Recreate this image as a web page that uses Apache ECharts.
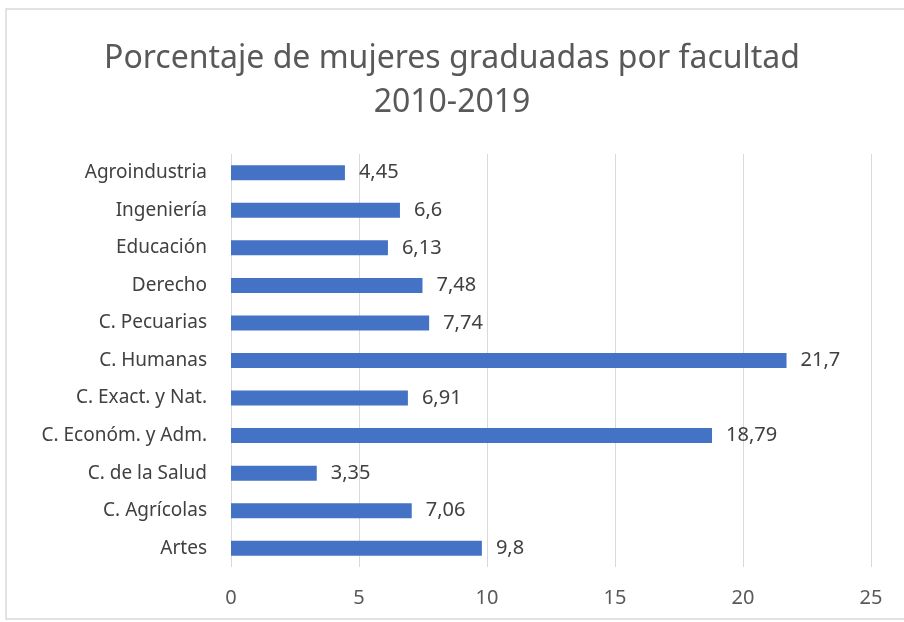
<!DOCTYPE html>
<html>
<head>
<meta charset="utf-8">
<script src="https://cdn.jsdelivr.net/npm/echarts@6/dist/echarts.min.js"></script>
<style>
  html, body { margin: 0; padding: 0; background: #fff; }
  #chart { width: 904px; height: 622px; }
</style>
</head>
<body>
<div id="chart"></div>
<script>
// bottom to top, as on the axis
var facultades = ['Artes', 'C. Agrícolas', 'C. de la Salud', 'C. Económ. y Adm.', 'C. Exact. y Nat.',
                  'C. Humanas', 'C. Pecuarias', 'Derecho', 'Educación', 'Ingeniería', 'Agroindustria'];
var porcentajes = [9.8, 7.06, 3.35, 18.79, 6.91, 21.7, 7.74, 7.48, 6.13, 6.6, 4.45];

var chart = echarts.init(document.getElementById('chart'));

var option = {
    backgroundColor: '#ffffff',
    textStyle: { fontFamily: 'Noto Sans' },
    title: {
        text: 'Porcentaje de mujeres graduadas por facultad\n2010-2019',
        left: 'center',
        top: 32,
        textStyle: {
            fontFamily: 'Noto Sans',
            fontSize: 32,
            fontWeight: 'normal',
            color: '#595959',
            lineHeight: 44
        }
    },
    graphic: [{
        type: 'rect',
        shape: { x: 6, y: 9, width: 920, height: 610 },
        style: { fill: 'none', stroke: '#d9d9d9', lineWidth: 1.5 },
        silent: true
    }],
    grid: {
        left: 231,
        right: 33,
        top: 154,
        bottom: 55
    },
    xAxis: {
        type: 'value',
        min: 0,
        max: 25,
        interval: 5,
        axisLine: { show: false },
        axisTick: { show: false },
        axisLabel: { color: '#595959', fontSize: 20, margin: 21 },
        splitLine: { lineStyle: { color: '#d9d9d9', width: 1 } }
    },
    yAxis: {
        type: 'category',
        data: facultades,
        axisLine: { show: false },
        axisTick: { show: false },
        axisLabel: { color: '#404040', fontSize: 19, margin: 24 }
    },
    series: [{
        type: 'bar',
        data: porcentajes,
        barWidth: 15,
        itemStyle: { color: '#4472C4' },
        label: {
            show: true,
            position: 'right',
            distance: 14,
            color: '#404040',
            fontSize: 20,
            formatter: function (p) { return String(p.value).replace('.', ','); }
        }
    }]
};
chart.setOption(option);
</script>
</body>
</html>
